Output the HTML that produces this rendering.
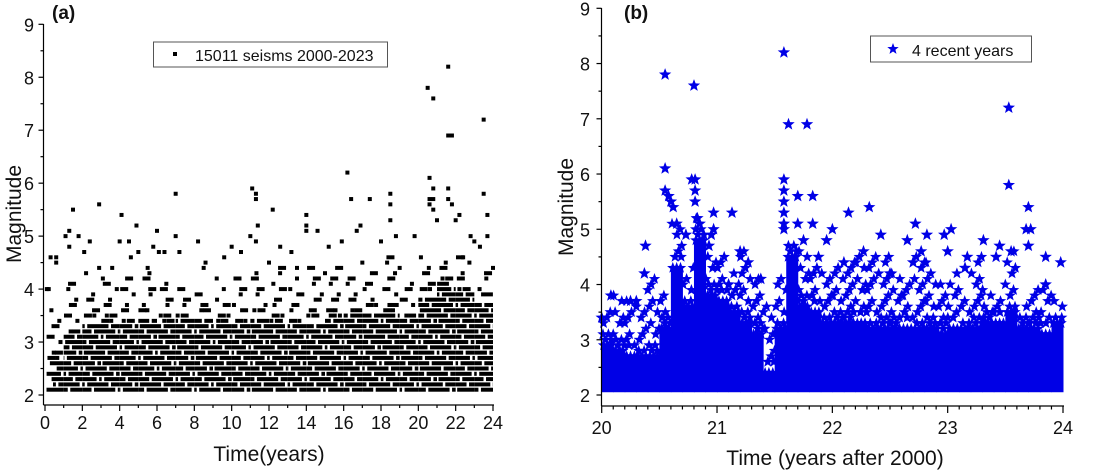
<!DOCTYPE html>
<html><head><meta charset="utf-8">
<style>
html,body{margin:0;padding:0;background:#fff;}
svg{display:block;font-family:"Liberation Sans",Arial,sans-serif;}
</style></head>
<body>
<svg id="chart" width="1101" height="470" viewBox="0 0 1101 470">
</svg>
<script>
// ===== Panel (a) data =====
const aBinYears = [0,1,2,3,4,5,6,7,8,9,10,11,12,13,14,15,16,17,18,19,20,21,22,23];
const aDenseTop = [2.6,3.1,3.3,3.3,3.3,3.4,3.3,3.4,3.4,3.3,3.3,3.4,3.3,3.3,3.3,3.4,3.5,3.5,3.5,3.4,3.8,4.0,3.9,3.7];
const aSparseTop = [3.6,4.2,4.0,4.2,4.2,4.4,4.2,4.0,3.9,4.0,4.2,4.4,4.4,4.2,4.4,4.4,4.3,4.3,4.6,4.2,4.6,4.6,4.6,4.4];
const aOutT = [0.3,0.1,0.2,0.6,0.6,1.1,1.3,1.3,1.5,1.8,2.1,2.4,2.9,2.9,3.6,4.0,4.1,4.6,4.5,4.9,5.0,5.8,6.0,6.1,6.4,7.0,7.0,7.2,8.2,8.6,9.6,10.0,10.5,11.1,11.3,11.3,11.0,11.4,11.3,12.2,12.6,13.2,14.0,14.0,14.0,14.6,15.2,15.9,16.2,16.4,16.7,16.9,17.4,18.0,18.5,18.5,18.5,18.8,19.8,20.5,20.6,20.8,20.8,20.6,20.6,20.8,20.8,21.0,21.6,21.6,21.8,21.6,21.6,21.8,22.2,22.0,23.5,23.5,23.7,23.7,22.8,23.0,2.2,3.1,5.5,8.5,9.2,12.0,13.5,15.0,17.0,19.0,22.4,23.3,24.0];
const aOutM = [4.6,4.0,4.0,4.6,4.5,5.0,5.1,4.8,5.5,5.0,4.7,4.9,5.6,4.4,4.4,4.9,5.4,4.6,4.9,5.2,4.7,4.8,5.1,4.7,4.7,5.8,5.0,4.7,4.9,4.5,4.6,4.8,4.7,5.9,5.8,5.7,5.0,5.2,4.9,5.5,4.8,4.7,5.4,5.2,5.1,5.1,4.8,4.9,6.2,5.7,5.1,5.2,5.7,4.9,5.8,5.6,5.3,5.0,5.0,7.8,6.1,7.6,5.9,5.7,5.6,5.7,5.5,5.3,8.2,6.9,6.9,5.9,5.7,5.6,5.4,5.3,7.2,5.8,5.4,5.0,5.0,4.9,4.3,4.2,4.4,4.4,4.2,4.5,4.4,4.3,4.5,4.4,4.6,4.8,4.4];
const aXTicks = [0,2,4,6,8,10,12,14,16,18,20,22,24];
const aYTicks = [2,3,4,5,6,7,8,9];

// ===== Panel (b) data =====
const bBinStart = [20.0,20.1,20.2,20.3,20.4,20.5,20.6,20.7,20.8,20.9,21.0,21.1,21.2,21.3,21.4,21.5,21.6,21.7,21.8,21.9,22.0,22.1,22.2,22.3,22.4,22.5,22.6,22.7,22.8,22.9,23.0,23.1,23.2,23.3,23.4,23.5,23.6,23.7,23.8,23.9];
const bDenseTop = [2.9,2.8,2.7,2.7,2.7,3.2,4.3,3.6,4.8,3.8,3.7,3.5,3.3,3.1,2.4,3.2,4.5,3.6,3.5,3.3,3.3,3.3,3.3,3.2,3.2,3.2,3.2,3.2,3.2,3.1,3.2,3.2,3.2,3.3,3.3,3.5,3.2,3.2,3.1,3.3];
const bSparseTop = [3.5,3.8,3.7,3.7,4.2,3.8,5.1,4.3,5.2,4.5,4.5,4.2,4.6,4.1,3.6,4.1,4.8,4.6,4.3,4.3,4.4,4.4,4.6,4.5,4.5,4.2,4.0,4.5,4.4,4.0,4.2,3.7,4.5,3.9,3.8,4.6,3.6,4.0,4.0,3.7];
const bOutT = [20.55,20.8,21.58,21.62,21.78,23.53,23.53,20.55,20.55,20.58,20.6,20.62,20.65,20.78,20.81,20.81,20.81,20.83,20.85,20.97,20.97,20.95,20.93,21.13,21.1,20.73,20.38,20.37,20.08,20.25,20.3,21.2,21.27,21.38,21.58,21.58,21.58,21.58,21.58,21.58,21.7,21.7,21.75,21.83,21.83,21.95,22.0,21.88,22.14,22.32,22.42,22.27,22.65,22.72,22.82,22.77,22.97,23.03,23.0,23.31,23.45,23.7,23.68,23.72,23.7,23.55,23.85,23.98,23.85,23.17,23.15,22.5,22.1,22.7,23.42,20.0];
const bOutM = [7.8,7.6,8.2,6.9,6.9,7.2,5.8,6.1,5.7,5.6,5.5,5.4,5.1,5.9,5.9,5.7,5.5,5.2,5.1,5.3,5.0,4.9,4.7,5.3,4.0,4.9,4.7,4.2,3.8,3.7,3.7,4.6,4.4,4.1,5.9,5.7,5.5,5.3,5.1,5.0,5.6,5.1,4.8,5.6,5.1,4.8,5.0,4.5,5.3,5.4,4.9,4.6,4.8,5.1,4.9,4.6,4.9,5.0,4.6,4.8,4.7,5.4,5.0,5.0,4.7,4.6,4.5,4.4,4.0,4.5,4.3,4.2,4.4,4.4,4.5,3.4];
const bXTicks = [20,21,22,23,24];
const bYTicks = [2,3,4,5,6,7,8,9];

const NS = "http://www.w3.org/2000/svg";
const svg = document.getElementById('chart');
function mk(tag, attrs, parent){
  const e = document.createElementNS(NS, tag);
  for (const k in attrs) e.setAttribute(k, attrs[k]);
  (parent||svg).appendChild(e);
  return e;
}
function txt(s, x, y, size, anchor, parent, extra){
  const t = mk('text', Object.assign({x:x, y:y, 'font-size':size, 'text-anchor':anchor||'middle', fill:'#111'}, extra||{}), parent);
  t.textContent = s;
  return t;
}

// ===== Panel (a) =====
const ax = v => 45 + (v-0)/24*(493-45);
const ay = v => 395 - (v-2)/7*(395-24.3);
const gA = mk('g', {});


const gAPts = mk('g', {fill:'#000'}, gA);


for (let i=0;i<aBinYears.length;i++){
  const x0 = ax(aBinYears[i]), x1 = ax(aBinYears[i]+1);
  const nLev = Math.round((aDenseTop[i]-2.1)*10);
  for (let l=0;l<=nLev;l++){
    const m = 2.1 + l/10;
    const gapA = x0 + ((l*7+i*3)%11)/11*(x1-x0);
    const startX = (i===0) ? x0 + ((l*5)%7)/7*(x1-x0)*0.6 : x0;
    const r1 = mk('rect', {x:startX, y:ay(m)-2, width:Math.max(0,gapA-startX-1), height:4}, gAPts);
    
    
    const r2 = mk('rect', {x:gapA+1.5, y:ay(m)-2, width:Math.max(0,x1-gapA-1.5), height:4}, gAPts);
    
    
  }
  const nS = Math.round((aSparseTop[i]-aDenseTop[i])*10);
  for (let l=1;l<=nS;l++){
    if ((l+i)%3===0) continue;
    const m = aDenseTop[i] + l/10;
    const cnt = l<=2 ? 2 : 1;
    for (let k=0;k<cnt;k++){
      const fx = ((k*47 + l*23 + i*11)%100)/100;
      const w = 4 + ((k+l+i)%2)*4;
      const r = mk('rect', {x:x0+fx*(x1-x0-w), y:ay(m)-2, width:w, height:4}, gAPts);
      
      
    }
  }
}
for (let i=0;i<aOutT.length;i++){
  const r = mk('rect', {x:ax(aOutT[i])-2, y:ay(aOutM[i])-2, width:4, height:4}, gAPts);
  
  
}
const axA = mk('g', {stroke:'#000', 'stroke-width':1.2, fill:'none'}, gA);


mk('line', {x1:43.5, y1:24, x2:43.5, y2:405}, axA);
mk('line', {x1:43.5, y1:405, x2:494, y2:405}, axA);
for (let v=2; v<=9; v+=0.5){
  const major = Number.isInteger(v);
  mk('line', {x1:43.5, x2:43.5-(major?5:3), y1:ay(v), y2:ay(v)}, axA);
}
for (let v=0; v<=24; v+=1){
  const major = v%2===0;
  mk('line', {x1:ax(v), x2:ax(v), y1:405, y2:405+(major?6:3)}, axA);
}
for (const v of aYTicks){ const t=txt(String(v), 34, ay(v)+7, 18, 'end', gA);   }
for (const v of aXTicks){ const t=txt(String(v), ax(v), 429, 18, 'middle', gA);   }
const xtA = txt('Time(years)', 269, 461, 21, 'middle', gA);


const ytA = txt('Magnitude', 0, 0, 21, 'middle', gA, {transform:'translate(21,214) rotate(-90)'});


const plA = txt('(a)', 52, 19, 19, 'start', gA, {'font-weight':'bold'});


const lgA = mk('g', {}, gA);


mk('rect', {x:153.5, y:42, width:234, height:25, fill:'#fff', stroke:'#555', 'stroke-width':1}, lgA);
mk('rect', {x:173, y:52, width:4, height:4, fill:'#000'}, lgA);
txt('15011 seisms 2000-2023', 195, 61, 16, 'start', lgA);

// ===== Panel (b) =====
const bx = v => 601.7 + (v-20)/4*(1063-601.7);
const by = v => 395 - (v-2)/7*(395-8.3);
const BLUE = '#0000e6';
function star(cx, cy, r, parent){
  let d='';
  for (let k=0;k<10;k++){
    const a = -Math.PI/2 + k*Math.PI/5;
    const rr = k%2===0 ? r : r*0.42;
    d += (k===0?'M':'L') + (cx+rr*Math.cos(a)).toFixed(1) + ' ' + (cy+rr*Math.sin(a)).toFixed(1);
  }
  return mk('path', {d:d+'Z'}, parent);
}
const gB = mk('g', {});


const gBPts = mk('g', {fill:BLUE}, gB);


for (let i=0;i<bBinStart.length;i++){
  const x0 = bx(bBinStart[i]), x1 = bx(bBinStart[i]+0.1);
  const r = mk('rect', {x:x0, y:by(bDenseTop[i]), width:x1-x0+0.5, height:by(2.05)-by(bDenseTop[i])}, gBPts);
  
  
  for (let k=0;k<3;k++){
    const s = star(x0 + (k+0.5)/3*(x1-x0), by(bDenseTop[i]), 6, gBPts);
    
    
  }
  const nS = Math.round((bSparseTop[i]-bDenseTop[i])*10);
  for (let l=1;l<=nS;l++){
    if ((l*3+i)%4===1) continue;
    const m = bDenseTop[i] + l/10;
    const cnt = l<3 ? 2 : 1;
    for (let k=0;k<cnt;k++){
      const fx = ((k*53 + l*29 + i*13)%100)/100;
      const s = star(x0 + fx*(x1-x0), by(m), 6, gBPts);
      
      
    }
  }
}
for (let i=0;i<bOutT.length;i++){
  const s = star(bx(bOutT[i]), by(bOutM[i]), 6.5, gBPts);
  
  
}
const axB = mk('g', {stroke:'#000', 'stroke-width':1.2, fill:'none'}, gB);


mk('line', {x1:601.5, y1:8, x2:601.5, y2:406}, axB);
mk('line', {x1:601.5, y1:406, x2:1064, y2:406}, axB);
for (let v=2; v<=9; v+=0.5){
  const major = Number.isInteger(v);
  mk('line', {x1:601.5, x2:601.5-(major?5:3), y1:by(v), y2:by(v)}, axB);
}
for (let k=0; k<=40; k++){
  const v = 20 + k/10;
  const major = k%10===0;
  mk('line', {x1:bx(v), x2:bx(v), y1:406, y2:406+(major?7:3.5)}, axB);
}
for (const v of bYTicks){ const t=txt(String(v), 590, by(v)+7, 18, 'end', gB);   }
for (const v of bXTicks){ const t=txt(String(v), bx(v), 434, 18, 'middle', gB);   }
const xtB = txt('Time (years after 2000)', 835, 465, 21, 'middle', gB);


const ytB = txt('Magnitude', 0, 0, 21, 'middle', gB, {transform:'translate(573,207) rotate(-90)'});


const plB = txt('(b)', 624, 19, 19, 'start', gB, {'font-weight':'bold'});


const lgB = mk('g', {}, gB);


mk('rect', {x:870.5, y:36, width:161, height:26, fill:'#fff', stroke:'#555', 'stroke-width':1}, lgB);
const ls = star(893, 49, 6, lgB); ls.setAttribute('fill', BLUE);
txt('4 recent years', 912, 56, 16, 'start', lgB);
</script>
</body></html>
